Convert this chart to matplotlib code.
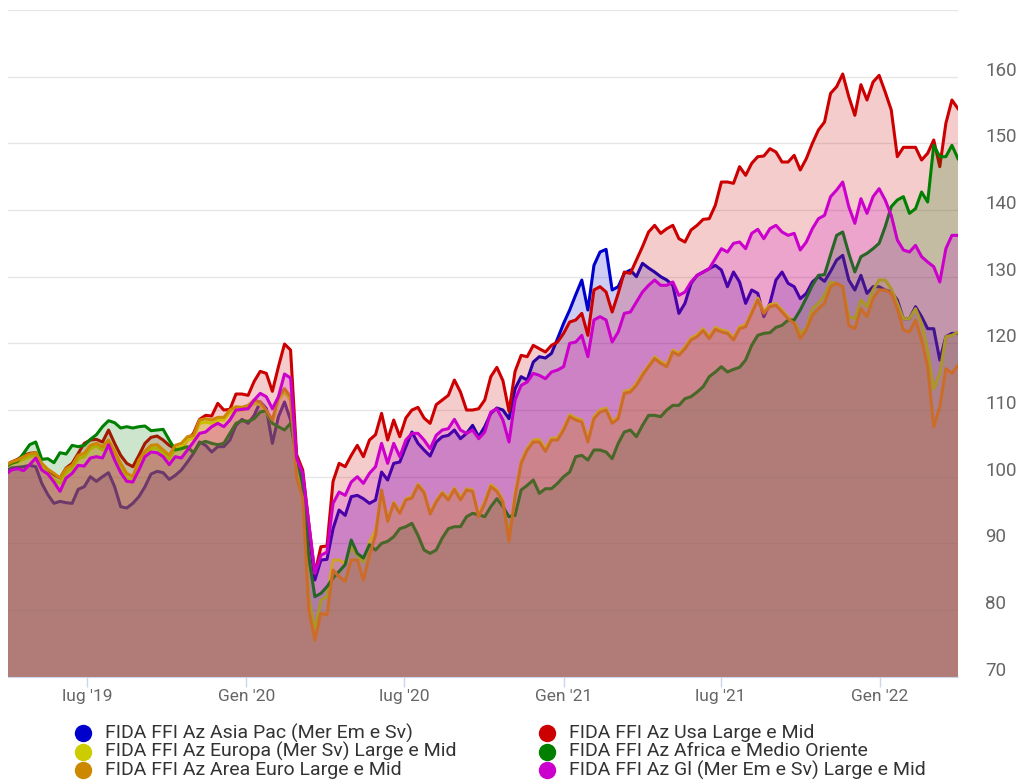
import matplotlib
matplotlib.use("Agg")
import matplotlib.pyplot as plt
from matplotlib.lines import Line2D
from matplotlib.transforms import ScaledTranslation
import pandas as pd

plt.rcParams['font.family'] = ['Roboto', 'DejaVu Sans']

# weekly values, rebased to ~100
dates = pd.date_range('2019-03-29', periods=158, freq='7D')

asia_pac = [
    100.8, 101.3, 101.4, 101.5, 101.7, 101.5, 99.0, 97.3, 96.0, 96.3, 96.1, 96.0, 98.1, 98.5,
    100.0, 99.3, 100.0, 100.6, 98.5, 95.5, 95.3, 96.0, 97.0, 98.5, 100.4, 100.8, 100.6, 99.6,
    100.2, 101.0, 102.2, 103.5, 105.2, 104.7, 103.7, 104.5, 104.5, 105.5, 107.7, 108.6,
    108.0, 109.2, 111.2, 110.2, 105.0, 109.0, 111.2, 108.5, 103.0, 100.0, 92.0, 84.5,
    87.5, 87.6, 92.2, 95.0, 94.2, 97.0, 97.2, 96.7, 96.0, 96.5, 100.7, 99.5, 102.0,
    102.2, 104.5, 106.7, 105.0, 104.0, 103.1, 105.2, 106.0, 106.2, 107.0, 105.7, 106.5, 107.7,
    106.0, 107.5, 109.5, 110.3, 110.0, 108.7, 113.2, 115.0, 114.5, 117.2, 118.0, 117.8,
    118.5, 120.7, 123.0, 125.0, 127.3, 129.5, 125.0, 131.7, 133.7, 134.1, 128.0, 128.5,
    130.5, 131.0, 130.0, 132.0, 131.3,
    130.7, 130.0, 129.5, 128.7, 124.5, 126.0, 129.0, 130.2, 130.7, 131.2, 131.7, 131.0,
    128.5, 130.7, 129.2, 126.0, 128.0, 127.5, 124.0, 126.0, 129.5, 130.7, 129.0, 128.5,
    126.7, 127.5, 129.2, 130.0, 129.3, 130.8, 132.5, 133.2, 129.5, 128.0, 130.2, 127.5,
    128.5, 128.5, 128.0, 127.7, 126.5, 123.7, 123.7, 125.5, 124.0, 122.2, 122.2, 117.5,
    121.0, 121.5, 121.5,
]
usa = [
    101.7, 102.2, 102.6, 103.2, 103.5, 103.6, 101.8, 101.0, 100.3, 99.8, 101.3, 102.0, 103.5,
    105.0, 105.5, 105.6, 105.2, 107.0, 105.0, 103.2, 102.0, 101.5, 103.2, 105.0, 105.9, 106.1,
    105.5, 104.7,
    104.2, 104.4, 105.5, 106.5, 108.6, 109.2, 109.1, 111.0, 110.0, 110.1, 112.4, 112.4,
    112.2, 114.3, 115.8, 115.5, 112.8, 116.5, 119.9, 119.0, 103.3, 101.0, 93.0, 85.5,
    89.5, 89.6, 99.3, 102.0, 101.5, 103.2, 104.7, 103.0, 105.5, 106.3, 109.5, 105.5, 108.5,
    106.0, 108.8, 110.0, 110.4, 108.8, 108.0, 110.8, 111.5, 112.2, 114.5, 112.7, 110.0, 110.0,
    110.2, 111.5, 115.0, 116.4, 114.4, 109.8, 115.8, 118.2, 118.0, 119.7, 119.2, 118.7,
    119.7, 120.2, 121.5, 123.2, 123.5, 124.5, 121.2, 128.0, 128.5, 127.7, 124.7, 127.5,
    130.7, 130.5, 132.5, 134.5, 136.7,
    137.7, 136.5, 137.2, 137.7, 135.7, 135.2, 137.0, 137.7, 138.6, 138.7, 140.7, 144.2,
    144.2, 144.0, 146.5, 145.2, 147.0, 148.0, 148.1, 149.2, 148.7, 147.2, 147.2, 148.2,
    146.0, 147.7, 150.0, 152.0, 153.2, 157.5, 158.5, 160.4, 157.0, 154.2, 158.8, 156.5,
    159.2, 160.2, 157.7, 155.0, 148.0, 149.4, 149.4, 149.4, 147.5, 148.5, 150.5, 146.5,
    153.0, 156.5, 155.2,
]
europa = [
    101.5, 102.0, 102.2, 102.6, 103.0, 103.2, 101.6, 100.4, 99.6, 99.0, 100.6, 101.2, 102.7,
    103.0, 104.2, 104.6, 104.0, 104.8, 103.0, 101.2, 99.8, 99.4, 101.8, 103.2, 104.2, 104.3,
    103.5, 102.6,
    104.2, 104.5, 105.5, 105.8, 108.0, 108.2, 108.0, 108.5, 108.5, 109.6, 110.0, 110.0,
    110.3, 111.0, 110.8, 109.6, 108.0, 111.5, 112.7, 111.5, 100.5, 97.5, 82.0, 77.0,
    81.5, 82.0, 87.5, 87.5, 87.0, 89.5, 88.2, 87.2, 90.2, 92.0, 97.5, 93.5, 96.2, 94.8,
    96.7, 97.0, 98.9, 97.8, 94.6, 96.4, 97.7, 96.8, 98.3, 96.8, 98.2, 98.0,
    94.3, 96.3, 98.8, 98.1, 96.5, 91.0, 97.5, 102.3, 104.3, 105.5, 105.6, 104.2, 105.8,
    105.8, 107.3, 109.3, 108.8, 108.5, 105.6, 109.0, 110.0, 110.3, 108.3, 109.0, 112.8,
    113.0, 114.0, 115.5, 116.7,
    118.0, 117.3, 116.8, 119.0, 118.5, 119.5, 120.8, 121.3, 122.2, 121.0, 122.4, 122.0,
    121.8, 120.8, 122.5, 122.8, 124.8, 126.8, 124.8, 125.8, 126.0, 125.0, 124.0, 123.3,
    121.5, 122.3, 125.2, 126.0, 127.2, 129.2, 129.0, 128.5, 124.0, 123.7, 126.5, 125.5,
    128.0, 129.5, 129.5, 128.2, 126.0, 123.7, 123.7, 125.2, 123.0, 119.0, 113.2, 115.5,
    121.0, 121.2, 121.7,
]
africa = [
    101.5, 102.0, 102.3, 103.5, 104.8, 105.2, 102.6, 102.7, 102.1, 103.6, 103.4, 104.7, 104.5,
    104.7, 105.6, 106.3, 107.5, 108.4, 108.1, 107.3, 107.5, 107.3, 107.5, 107.6, 106.9, 107.0,
    107.1, 105.5,
    104.0, 104.2, 104.5, 103.6, 105.0, 105.3, 105.0, 104.8, 105.0, 106.5, 108.0, 108.4,
    108.3, 108.7, 109.7, 109.9, 108.0, 107.5, 107.0, 108.0, 103.0, 98.8, 88.0, 82.0,
    82.5, 83.5, 84.8, 85.8, 86.8, 90.5, 88.5, 87.8, 89.8, 89.0, 90.0, 90.3, 91.0, 92.2,
    92.5, 93.0, 91.2, 89.0, 88.5, 89.0, 90.8, 92.2, 92.5, 92.5, 94.0, 94.5,
    94.3, 94.0, 95.5, 96.7, 95.5, 94.0, 94.2, 98.0, 98.7, 99.5, 97.5, 98.2, 98.2, 99.0,
    100.0, 100.7, 103.0, 103.2, 102.5, 104.0, 104.0, 103.7, 102.7, 105.0, 106.7, 107.0,
    106.0, 107.7, 109.2,
    109.2, 109.0, 110.0, 110.7, 110.7, 111.7, 112.0, 112.7, 113.5, 115.0, 115.7, 116.5,
    115.7, 116.1, 116.4, 117.5, 119.7, 121.2, 121.5, 121.6, 122.4, 122.7, 123.5, 123.5,
    125.0, 126.8, 128.7, 130.2, 130.3, 133.3, 136.2, 136.7, 133.5, 130.7, 133.0, 133.5,
    134.2, 135.0, 137.5, 140.5, 141.5, 142.0, 139.5, 140.2, 142.7, 141.2, 149.7, 148.0,
    148.0, 149.7, 147.7,
]
area_euro = [
    101.7, 102.2, 102.5, 103.0, 103.4, 103.6, 102.0, 101.1, 100.5, 99.8, 101.2, 101.7, 103.2,
    103.5, 104.7, 105.0, 104.5, 105.5, 103.8, 102.0, 100.5, 100.0, 102.5, 103.8, 104.7, 104.8,
    104.0, 103.2,
    104.7, 105.0, 106.0, 106.2, 108.5, 108.7, 108.5, 108.9, 108.9, 110.0, 110.5, 110.4,
    110.7, 111.5, 111.2, 110.0, 108.5, 112.0, 113.2, 112.0, 99.8, 96.8, 80.0, 75.5,
    79.5, 79.3, 86.0, 85.0, 84.3, 87.5, 87.5, 84.5, 88.2, 91.2, 98.0, 93.3, 96.0, 94.5,
    96.5, 96.8, 98.7, 97.6, 94.4, 96.2, 97.5, 96.5, 98.1, 96.5, 98.0, 97.8,
    94.0, 96.0, 98.5, 97.8, 96.2, 90.3, 97.0, 102.0, 104.0, 105.2, 105.2, 103.8, 105.5,
    105.5, 107.0, 109.0, 108.5, 108.2, 105.2, 108.7, 109.7, 110.0, 108.0, 108.7, 112.5,
    112.7, 113.7, 115.2, 116.5,
    117.7, 117.0, 116.5, 118.7, 118.2, 119.2, 120.5, 121.0, 121.9, 120.7, 122.1, 121.7,
    121.5, 120.5, 122.2, 122.5, 124.5, 126.5, 124.5, 125.5, 125.7, 124.7, 123.7, 123.0,
    120.7, 122.0, 124.2, 125.2, 126.0, 128.5, 129.0, 128.5, 122.7, 122.2, 125.2, 124.0,
    126.7, 128.0, 128.0, 127.5, 125.2, 122.0, 121.7, 123.5, 120.5, 116.5, 107.5, 110.5,
    116.2, 115.5, 116.7,
]
globale = [
    100.3, 101.0, 101.2, 100.9, 101.8, 102.8, 101.0, 100.4, 99.2, 97.8, 99.8, 100.5, 101.7,
    101.6, 102.8, 103.0, 102.8, 104.8, 102.5, 100.6, 99.3, 99.2, 101.0, 103.0, 103.7, 103.6,
    103.0, 101.8,
    103.0, 102.8, 104.0, 105.2, 106.5, 106.7, 107.5, 108.0, 107.5, 108.5, 110.0, 110.1,
    110.2, 111.5, 112.5, 112.0, 110.2, 112.0, 115.4, 114.8, 102.8, 100.5, 93.0, 85.5,
    88.2, 88.7, 96.0, 97.7, 97.2, 99.2, 100.0, 99.0, 100.5, 101.5, 105.0, 102.0, 105.0,
    103.0, 105.5, 106.5, 106.5, 105.5, 104.2, 106.2, 107.0, 107.2, 108.6, 107.0, 106.5, 107.0,
    105.7, 106.7, 109.7, 110.2, 108.5, 105.2, 111.5, 113.7, 114.2, 115.5, 115.2, 114.7,
    115.7, 116.0, 116.5, 120.0, 120.2, 121.2, 118.0, 123.5, 124.0, 123.5, 120.2, 121.7,
    124.5, 124.7, 126.2, 127.7, 128.7,
    129.5, 128.7, 128.7, 129.2, 127.2, 127.7, 129.2, 130.2, 130.7, 131.2, 132.7, 134.2,
    133.7, 135.0, 135.2, 134.2, 136.5, 137.1, 135.7, 137.2, 137.7, 136.7, 136.2, 136.5,
    134.0, 135.2, 137.2, 138.7, 139.2, 142.0, 143.0, 144.2, 140.5, 138.0, 141.7, 139.5,
    142.0, 143.2, 141.5, 139.2, 135.5, 134.0, 133.7, 134.7, 133.0, 132.2, 131.5, 129.2,
    134.2, 136.2, 136.2,
]

# drawing order = legend order (row by row)
names = [
    "FIDA FFI Az Asia Pac (Mer Em e Sv)",
    "FIDA FFI Az Usa Large e Mid",
    "FIDA FFI Az Europa (Mer Sv) Large e Mid",
    "FIDA FFI Az Africa e Medio Oriente",
    "FIDA FFI Az Area Euro Large e Mid",
    "FIDA FFI Az Gl (Mer Em e Sv) Large e Mid",
]
values = [asia_pac, usa, europa, africa, area_euro, globale]
colors = ["#0000cc", "#cc0000", "#cccc00", "#008000", "#cc8800", "#cc00cc"]

x_ticks = pd.to_datetime(['2019-07-01', '2020-01-01', '2020-07-01',
                          '2021-01-01', '2021-07-01', '2022-01-01'])
x_labels = ["lug '19", "Gen '20", "lug '20", "Gen '21", "lug '21", "Gen '22"]
y_ticks = list(range(70, 171, 10))
y_labels = [str(v) for v in y_ticks[:-1]] + [""]

W, H = 1021, 782
fig = plt.figure(figsize=(W / 100, H / 100), dpi=100)
ax = fig.add_axes([8 / W, 1 - 676.7 / H, 950 / W, 666.7 / H])

for i, (vals, col) in enumerate(zip(values, colors)):
    ax.fill_between(dates, vals, 0, color=col, alpha=0.2, lw=0, zorder=2 + 2 * i)
    ax.plot(dates, vals, color=col, lw=2.2, zorder=3 + 2 * i, solid_joinstyle='round')

ax.set_xlim(pd.Timestamp('2019-04-01'), dates[-1])
ax.set_ylim(70, 170)

ax.set_axisbelow(True)
ax.grid(axis='y', color='#e6e6e6', lw=1, zorder=0)
for s in ['left', 'right', 'top']:
    ax.spines[s].set_visible(False)
ax.spines['bottom'].set_color('#ccd6eb')
ax.spines['bottom'].set_zorder(20)

ax.set_xticks(x_ticks)
ax.set_xticklabels(x_labels)
ax.tick_params(axis='x', length=7, width=1, color='#ccd6eb', labelcolor='#666666',
               labelsize=12.5, pad=2)

ax.yaxis.tick_right()
ax.set_yticks(y_ticks)
ax.set_yticklabels(y_labels)
ax.tick_params(axis='y', length=0, pad=19.5, labelcolor='#666666', labelsize=13.5)
up = ScaledTranslation(0, 0.08, fig.dpi_scale_trans)
for t in ax.yaxis.get_major_ticks():
    t.label2.set_transform(t.label2.get_transform() + up)

# legend, two columns filled row by row
col_x = [83, 547]
row_y = [733, 751.5, 770]
for i, (name, col) in enumerate(zip(names, colors)):
    cx = col_x[i % 2]
    cy = row_y[i // 2]
    fig.add_artist(Line2D([cx / W], [1 - cy / H], marker='o', markersize=11.5,
                          color=col, linestyle='none', transform=fig.transFigure))
    fig.text((cx + 22) / W, 1 - cy / H, name, fontsize=14, color='#333333',
             va='center', ha='left')

fig.savefig('out.png', dpi=100)
